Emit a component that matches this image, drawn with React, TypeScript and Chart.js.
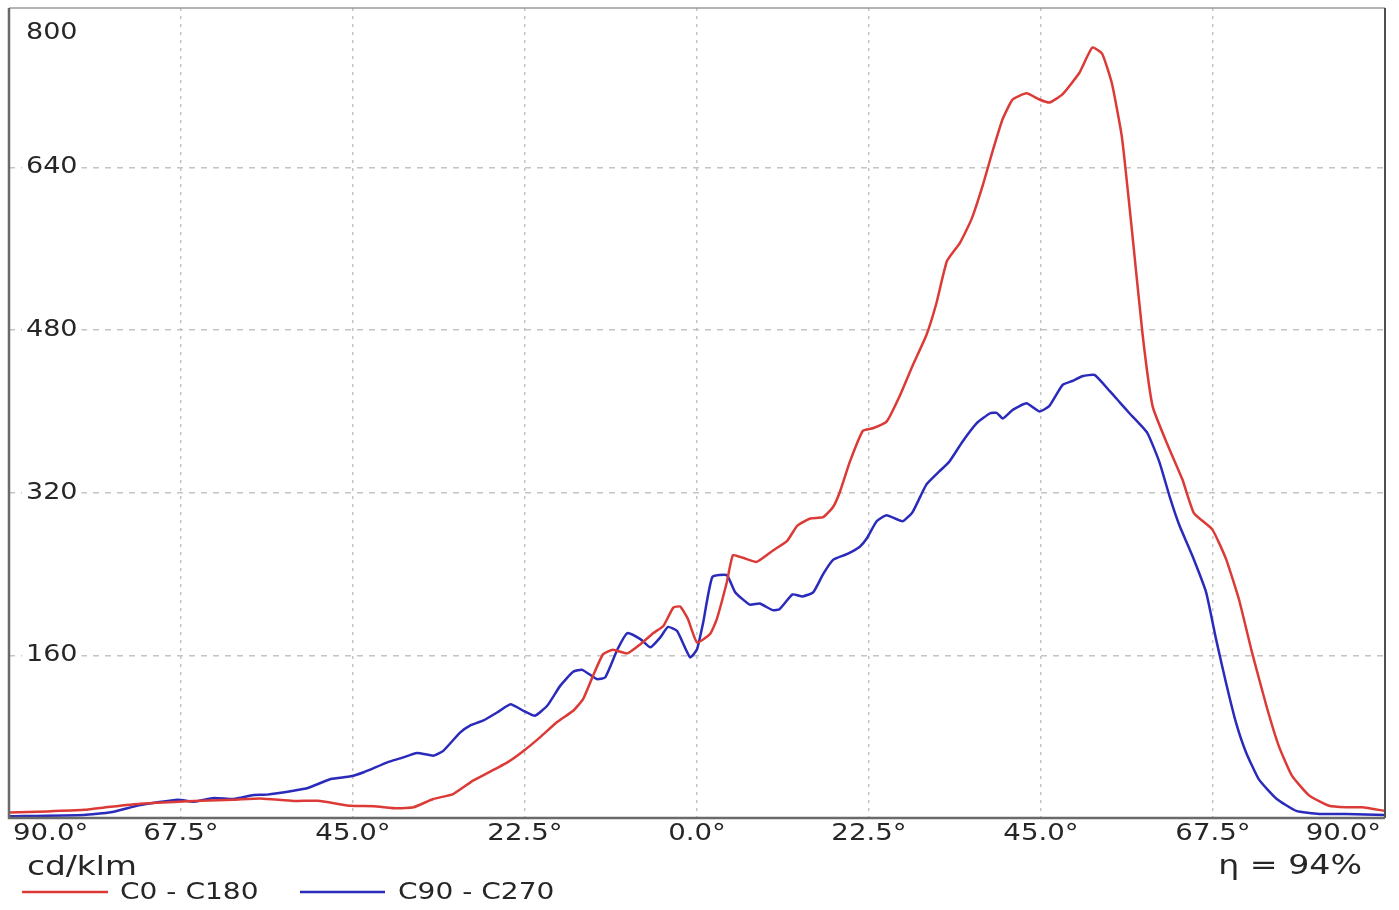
import React, { useEffect, useRef } from "react";
import { Chart, registerables } from "chart.js";
Chart.register(...registerables);

// C0 - C180 (red)
const redAngles = [-90, -85, -80.2, -76.7, -72.8, -68.4, -64.9, -60.6, -57.1, -52.8, -49.6, -45.3, -42.3, -39.2, -37.1, -34.5, -31.9, -29.3, -24.8, -22.7, -20.5, -18.3, -16.2, -14.9, -13.6, -12.3, -11.0, -9.1, -7.4, -5.7, -4.4, -3.1, -2.2, -1.2, 0, 1.7, 2.6, 3.9, 4.7, 6.0, 7.8, 9.9, 11.8, 13.1, 14.8, 16.5, 17.8, 18.7, 20.0, 21.7, 23.0, 24.8, 26.5, 28.2, 30.0, 31.3, 32.7, 34.4, 35.9, 37.4, 38.7, 40.0, 41.3, 43.1, 44.8, 46.1, 47.8, 50.0, 51.7, 53.0, 54.3, 55.6, 56.9, 58.3, 59.6, 61.4, 63.5, 65.0, 67.4, 69.2, 70.9, 72.6, 74.5, 76.1, 77.8, 80.1, 82.7, 84.9, 87.0, 90];
const redValues = [5.5, 6.5, 8, 11, 14, 15.7, 17, 18, 19.3, 16.7, 17, 12, 11.6, 9.5, 10.5, 18.7, 23.6, 36.7, 54.8, 66, 79.6, 94.4, 105.5, 117, 140, 161, 165.5, 162, 171, 182, 189, 207, 208, 196, 172.8, 181, 196, 232, 258.6, 256, 252, 263, 272.7, 287.5, 294.7, 296, 306, 321, 350.6, 381, 383.5, 390, 415, 445, 475, 506, 548, 566, 589, 623, 657, 688, 707, 713, 707, 704, 712, 733, 758, 752, 722, 669, 578, 475, 405, 370, 333, 300, 284, 255, 215, 163, 110, 71, 42, 22, 12, 10.5, 10.5, 7];

// C90 - C270 (blue)
const blueAngles = [-90, -80.2, -76.7, -72.8, -67.9, -65.8, -63.2, -60.6, -58, -56.2, -52.8, -50.9, -47.9, -45.3, -43.6, -40.5, -38.8, -36.6, -34.5, -33.2, -31, -29.7, -28, -26.1, -24.4, -22.7, -21.2, -19.6, -17.9, -16.2, -15.0, -13.1, -12.0, -10.4, -9.1, -7.4, -6.1, -4.8, -3.8, -2.6, -0.9, 0, 0.8, 2.0, 3.9, 5.0, 6.9, 8.2, 9.9, 10.8, 12.5, 13.8, 15.2, 16.5, 17.8, 19.6, 21.3, 22.2, 23.5, 24.8, 26.9, 28.2, 30.0, 31.7, 33.0, 34.7, 36.6, 38.3, 39.2, 40.0, 41.3, 43.1, 44.8, 46.1, 47.8, 49.1, 50.4, 52.0, 54.0, 55.3, 56.6, 58.9, 60.5, 61.8, 63.1, 64.8, 66.6, 67.9, 69.2, 70.5, 71.8, 73.5, 75.8, 78.4, 81.4, 84.9, 90];
const blueValues = [1.7, 3, 5.6, 12.8, 18, 16, 19.7, 18.7, 22.6, 23, 26.8, 29.5, 38.4, 41, 45, 54.8, 58.7, 64, 61.3, 66, 84, 91, 95.7, 104, 112, 105.5, 100.6, 110.4, 130, 143.9, 145.8, 136.7, 138.4, 166, 182, 176, 167.9, 177.7, 188, 184, 158, 166, 192, 237, 239, 222, 210, 211, 204.5, 205.5, 220, 218, 222, 240, 254, 259.6, 267, 275, 292, 298, 292, 301, 328, 341, 350.6, 370, 388.5, 398, 398.7, 393, 401.6, 408, 400, 405.5, 426, 430, 434.6, 436, 420, 409, 398, 379, 350, 317, 288, 258, 222, 176, 133, 94, 65, 38, 19, 7, 4, 4, 3];

const xTickValues = [-90, -67.5, -45, -22.5, 0, 22.5, 45, 67.5, 90];
const xTickLabels = ["90.0°", "67.5°", "45.0°", "22.5°", "0.0°", "22.5°", "45.0°", "67.5°", "90.0°"];
const yTickValues = [0, 160, 320, 480, 640];
const yTickLabels = ["", "160", "320", "480", "640"];
const yTopLabel = "800";
const unitLabel = "cd/klm";
const effLabel = "η = 94%";
const seriesNames = ["C0 - C180", "C90 - C270"];
const seriesColors = ["#db3a36", "#2a2abb"];

const FONT = '"DejaVu Sans", Verdana, sans-serif';

function drawText(ctx: CanvasRenderingContext2D, text: string, x: number, y: number, size: number, sx: number, align: CanvasTextAlign) {
  ctx.save();
  ctx.translate(x, y);
  ctx.scale(sx, 1);
  ctx.font = `${size}px ${FONT}`;
  ctx.textAlign = align;
  ctx.textBaseline = "middle";
  ctx.fillStyle = "#262626";
  ctx.fillText(text, 0, 0);
  ctx.restore();
}

const overlayPlugin = {
  id: "overlay",
  afterDraw(chart: any) {
    const ctx: CanvasRenderingContext2D = chart.ctx;
    const area = chart.chartArea;
    const xs = chart.scales.x;
    const ys = chart.scales.y;
    // frame
    ctx.save();
    ctx.strokeStyle = "#9a9a9a";
    ctx.lineWidth = 1.5;
    ctx.beginPath();
    ctx.moveTo(area.left, area.top);
    ctx.lineTo(area.right, area.top);
    ctx.stroke();
    ctx.strokeStyle = "#505050";
    ctx.lineWidth = 2;
    ctx.beginPath();
    ctx.moveTo(area.right, area.top);
    ctx.lineTo(area.right, area.bottom);
    ctx.stroke();
    ctx.strokeStyle = "#6a6a6a";
    ctx.lineWidth = 2.5;
    ctx.beginPath();
    ctx.moveTo(area.left, area.top);
    ctx.lineTo(area.left, area.bottom);
    ctx.lineTo(area.right, area.bottom);
    ctx.stroke();
    ctx.restore();

    // y labels with white backdrop
    const ySize = 22.5, ySx = 1.2;
    const drawY = (label: string, y: number) => {
      ctx.save();
      ctx.font = `${ySize}px ${FONT}`;
      const w = ctx.measureText(label).width * ySx;
      ctx.fillStyle = "#ffffff";
      ctx.fillRect(area.left + 13, y - 12, w + 8, 24);
      ctx.restore();
      drawText(ctx, label, area.left + 17, y, ySize, ySx, "left");
    };
    yTickValues.forEach((v, i) => {
      if (yTickLabels[i]) drawY(yTickLabels[i], ys.getPixelForValue(v));
    });
    drawY(yTopLabel, area.top + 25);

    // x labels
    xTickValues.forEach((v, i) => {
      const px = xs.getPixelForValue(v);
      let align: CanvasTextAlign = "center";
      let x = px;
      if (i === 0) { align = "left"; x = px + 4; }
      if (i === xTickValues.length - 1) { align = "right"; x = px - 4; }
      drawText(ctx, xTickLabels[i], x, area.bottom + 16, 23, 1.2, align);
    });

    // unit + efficiency
    drawText(ctx, unitLabel, 27, area.bottom + 50, 26, 1.26, "left");
    drawText(ctx, effLabel, 1362, area.bottom + 49, 27, 1.23, "right");

    // legend
    const ly = area.bottom + 74;
    const items = [
      { x0: 22, x1: 108, tx: 120 },
      { x0: 300, x1: 385, tx: 398 },
    ];
    items.forEach((it, i) => {
      ctx.save();
      ctx.strokeStyle = seriesColors[i];
      ctx.lineWidth = 2.5;
      ctx.beginPath();
      ctx.moveTo(it.x0, ly);
      ctx.lineTo(it.x1, ly);
      ctx.stroke();
      ctx.restore();
      drawText(ctx, seriesNames[i], it.tx, ly + 1, 23, 1.22, "left");
    });
  },
};

export default function App() {
  const ref = useRef<HTMLCanvasElement | null>(null);
  useEffect(() => {
    if (!ref.current) return;
    const mk = (a: number[], v: number[]) => a.map((x, i) => ({ x, y: v[i] }));
    const chart = new Chart(ref.current, {
      type: "line",
      data: {
        datasets: [
          { label: seriesNames[0], data: mk(redAngles, redValues), borderColor: seriesColors[0], borderWidth: 2.5, pointRadius: 0, tension: 0.15, fill: false },
          { label: seriesNames[1], data: mk(blueAngles, blueValues), borderColor: seriesColors[1], borderWidth: 2.5, pointRadius: 0, tension: 0.15, fill: false },
        ],
      },
      options: {
        animation: false,
        responsive: false,
        maintainAspectRatio: false,
        layout: { padding: { left: 9, top: 8, right: 14, bottom: 92 } },
        plugins: { legend: { display: false }, tooltip: { enabled: false } },
        scales: {
          x: {
            type: "linear",
            min: -90,
            max: 90,
            afterBuildTicks: (s: any) => { s.ticks = xTickValues.map((value) => ({ value })); },
            afterFit: (s: any) => { s.height = 0; },
            ticks: { display: false },
            grid: {
              drawTicks: false,
              color: (c: any) => (c.tick && (c.tick.value === -90 || c.tick.value === 90) ? "rgba(0,0,0,0)" : "#c4c4c4"),
              lineWidth: 1.5,
            },
            border: { display: false, dash: [3, 5] },
          },
          y: {
            type: "linear",
            min: 0,
            max: 797,
            afterBuildTicks: (s: any) => { s.ticks = yTickValues.map((value) => ({ value })); },
            afterFit: (s: any) => { s.width = 0; },
            ticks: { display: false },
            grid: {
              drawTicks: false,
              color: (c: any) => (c.tick && c.tick.value === 0 ? "rgba(0,0,0,0)" : "#c4c4c4"),
              lineWidth: 1.5,
            },
            border: { display: false, dash: [6, 6] },
          },
        },
      },
      plugins: [overlayPlugin],
    } as any);
    return () => chart.destroy();
  }, []);
  return (
    <div style={{ position: "fixed", left: 0, top: 0, width: 1399, height: 910, background: "#ffffff" }}>
      <canvas ref={ref} width={1399} height={910} style={{ display: "block", width: 1399, height: 910 }} />
    </div>
  );
}
